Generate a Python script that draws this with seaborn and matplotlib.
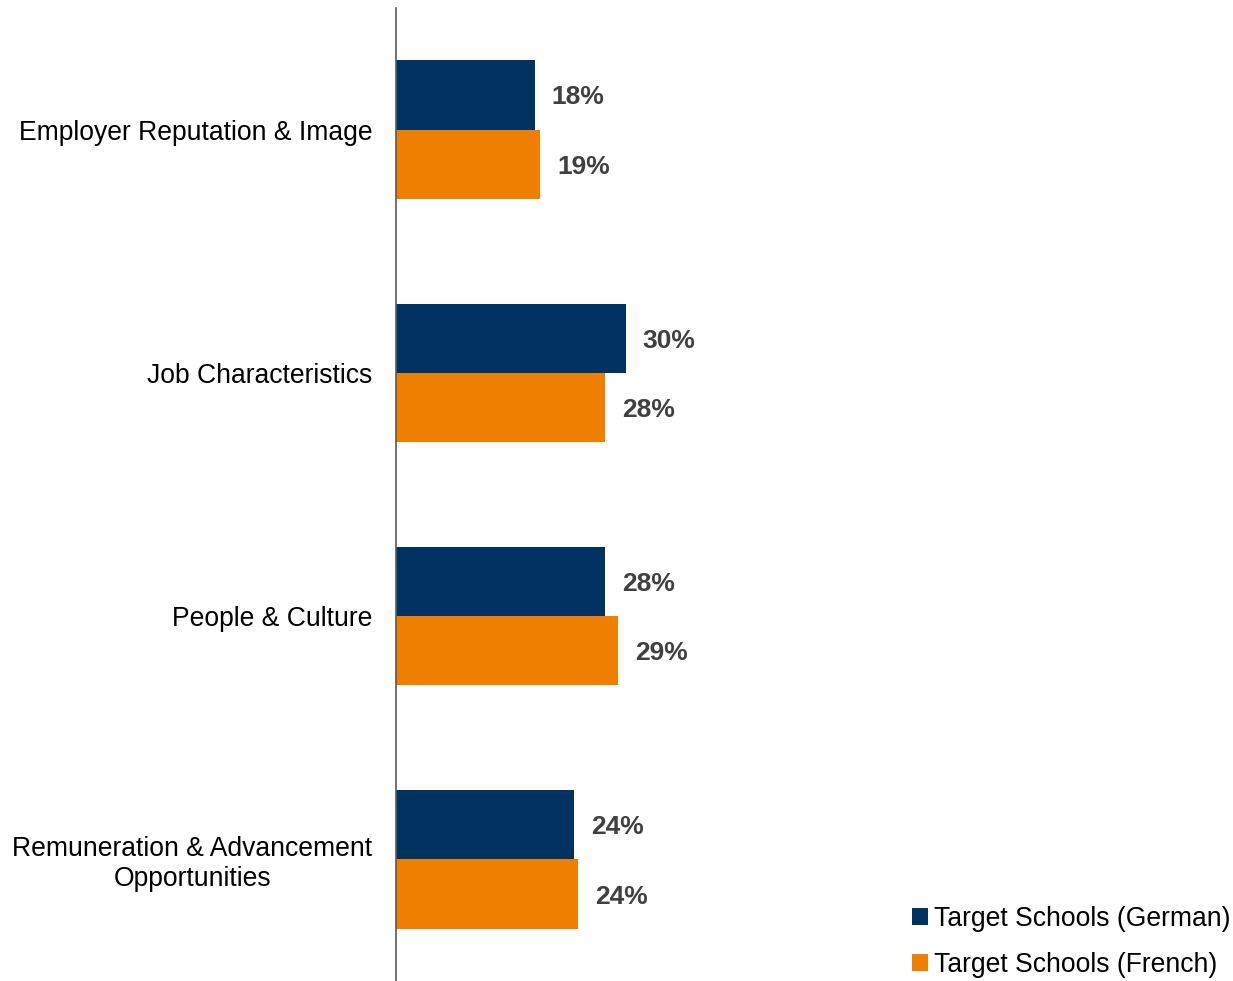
import numpy as np
import pandas as pd
import seaborn as sns
import matplotlib.pyplot as plt

# Data (labels are rounded)
categories = ['Employer Reputation & Image', 'Job Characteristics',
              'People & Culture', 'Remuneration & Advancement\nOpportunities']
german = [18.4, 30.4, 27.7, 23.6]
french = [19.1, 27.7, 29.4, 24.1]
series = ['Target Schools (German)', 'Target Schools (French)']
colors = ['#003361', '#EF7F00']

df = pd.DataFrame({
    'Category': categories * 2,
    'Share': german + french,
    'Series': [series[0]] * 4 + [series[1]] * 4,
})

sns.set_style('white')
plt.rcParams['font.family'] = ['Liberation Sans', 'DejaVu Sans']
plt.rcParams['text.color'] = 'black'

fig = plt.figure(figsize=(12.33, 9.81), dpi=100)
ax = fig.add_axes([396 / 1233, 0.0, 1 - 396 / 1233, 1 - 8 / 981])

sns.barplot(data=df, y='Category', x='Share', hue='Series', orient='h',
            palette=dict(zip(series, colors)), width=0.57, linewidth=0,
            saturation=1, ax=ax)

for cont in ax.containers:
    txts = ax.bar_label(cont, labels=['{:.0f}%'.format(v) for v in cont.datavalues],
                        padding=12, fontsize=19, fontweight='bold', color='#404040')
    for t in txts:
        t.set_va('center_baseline')

ax.set_xlim(0, 837 / 7.555)
ax.set_ylim(3.5, -0.5)
ax.set_xlabel('')
ax.set_ylabel('')
ax.set_xticks([])
ax.tick_params(axis='y', length=0, pad=17, labelsize=19.1)
for t in ax.get_yticklabels():
    t.set_multialignment('center')
    t.set_color('black')

for s in ['top', 'right', 'bottom']:
    ax.spines[s].set_visible(False)
ax.spines['left'].set_color('#595959')
ax.spines['left'].set_linewidth(1.2)

handles, labels = ax.get_legend_handles_labels()
ax.legend(handles, labels, loc='lower right', bbox_to_anchor=(1.009, -0.010),
          bbox_transform=fig.transFigure, frameon=False, fontsize=19.1,
          handlelength=0.6, handleheight=0.6, handletextpad=0.25,
          labelspacing=0.75, borderaxespad=0.1, labelcolor='black')

plt.savefig('out.png', dpi=100)
